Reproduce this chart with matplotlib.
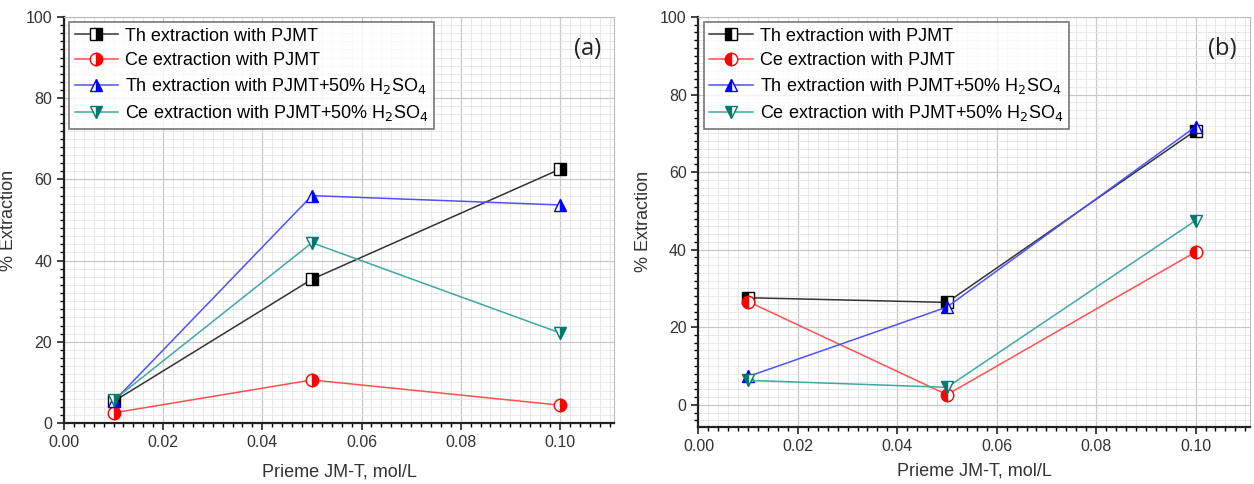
import matplotlib.pyplot as plt
from matplotlib.ticker import MultipleLocator

plt.rcParams['font.family'] = ['Liberation Sans', 'DejaVu Sans']

conc = [0.01, 0.05, 0.10]

# panel (a)
th_pjmt_a = [5.3, 35.4, 62.5]
ce_pjmt_a = [2.5, 10.6, 4.4]
th_acid_a = [5.3, 56.0, 53.7]
ce_acid_a = [5.6, 44.4, 22.2]

# panel (b)
th_pjmt_b = [27.6, 26.4, 70.7]
ce_pjmt_b = [26.6, 2.6, 39.4]
th_acid_b = [7.3, 25.2, 71.7]
ce_acid_b = [6.3, 4.5, 47.5]

labels = [
    "Th extraction with PJMT",
    "Ce extraction with PJMT",
    "Th extraction with PJMT+50% H$_2$SO$_4$",
    "Ce extraction with PJMT+50% H$_2$SO$_4$",
]
styles = [
    ("s", "black", "#333333"),
    ("o", "red", "#ff5050"),
    ("^", "blue", "#5050ff"),
    ("v", "#007a70", "#40a8a0"),
]


def draw_panel(ax, series, fill, tag, ymin, xpad):
    for vals, label, (marker, col, lcol) in zip(series, labels, styles):
        ax.plot(conc, vals, color=lcol, lw=1.1, marker=marker, ms=9,
                fillstyle=fill, markerfacecolor=col, markerfacecoloralt="white",
                markeredgecolor=col, markeredgewidth=1.0, label=label)
    ax.set_xlim(0, 0.111)
    ax.set_ylim(ymin, 100)
    ax.xaxis.set_major_locator(MultipleLocator(0.02))
    ax.xaxis.set_minor_locator(MultipleLocator(0.002))
    ax.yaxis.set_major_locator(MultipleLocator(20))
    ax.yaxis.set_minor_locator(MultipleLocator(2))
    ax.xaxis.set_major_formatter(plt.FormatStrFormatter("%.2f"))
    ax.grid(True, which="major", color="#c8c8c8", lw=0.9)
    ax.grid(True, which="minor", color="#e4e4e4", lw=0.6)
    ax.set_axisbelow(True)
    ax.tick_params(which="major", direction="out", length=5, width=1.2,
                   labelsize=11.5, colors="#222222", labelcolor="#333333")
    ax.tick_params(which="minor", direction="out", length=3, width=1.0)
    for side in ("top", "right"):
        ax.spines[side].set_color("#bbbbbb")
    for side in ("left", "bottom"):
        ax.spines[side].set_linewidth(1.6)
        ax.spines[side].set_color("#222222")
    ax.set_xlabel("Prieme JM-T, mol/L", fontsize=13, color="#333333", labelpad=xpad)
    ax.set_ylabel("% Extraction", fontsize=13, color="#333333", labelpad=6)
    leg = ax.legend(loc="upper left", fontsize=13, frameon=True, fancybox=False,
                    borderaxespad=0.3, handlelength=2.4, handletextpad=0.4,
                    borderpad=0.3, labelspacing=0.4)
    leg.get_frame().set_edgecolor("#555555")
    leg.get_frame().set_linewidth(1.2)
    ax.text(0.975, 0.95, tag, transform=ax.transAxes, ha="right", va="top",
            fontsize=17, family=["Open Sans", "DejaVu Sans"], color="#222222")


fig = plt.figure(figsize=(12.54, 4.84), dpi=100)
ax_a = fig.add_axes([0.051, 0.126, 0.439, 0.839])
ax_b = fig.add_axes([0.557, 0.118, 0.440, 0.847])

draw_panel(ax_a, [th_pjmt_a, ce_pjmt_a, th_acid_a, ce_acid_a], "right", "(a)", 0, 10)
draw_panel(ax_b, [th_pjmt_b, ce_pjmt_b, th_acid_b, ce_acid_b], "left", "(b)", -5.7, 6)

fig.savefig("out.png", dpi=100)
